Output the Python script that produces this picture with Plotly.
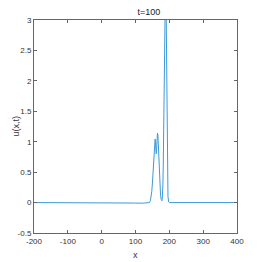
import plotly.graph_objects as go

x_vals = [-200, -150, -100, -50, 0, 20, 40, 60, 80, 100, 120, 135, 141, 144, 146, 148, 150, 152, 154, 155, 156, 157, 158, 159, 160, 161, 162, 163, 164, 165, 166, 167, 168, 170, 172, 174, 176, 178, 179, 180, 181, 182, 183, 184, 185, 186, 187, 188, 189, 190, 191, 192, 193, 194, 195, 196, 198, 200, 205, 220, 260, 300, 350, 400]
u_vals = [0.0, 0.0, 0.0, 0.0, 0.004, 0.0, -0.004, -0.006, -0.004, -0.008, -0.01, -0.008, 0.0, 0.03, 0.08, 0.18, 0.32, 0.52, 0.75, 0.86, 0.95, 1.02, 1.045, 1.0, 0.88, 0.80, 0.82, 0.95, 1.08, 1.14, 1.12, 1.02, 0.88, 0.55, 0.28, 0.12, 0.05, 0.03, 0.05, 0.12, 0.3, 0.6, 1.1, 1.7, 2.4, 3.0, 3.5, 3.8, 3.8, 3.5, 2.9, 2.1, 1.3, 0.7, 0.3, 0.1, 0.01, 0.0, 0.0, 0.0, 0.0, 0.0, 0.0, 0.0]

x_ticks = [-200, -100, 0, 100, 200, 300, 400]
x_tick_text = ["-200", "-100", "0", "100", "200", "300", "400"]
y_ticks = [-0.5, 0, 0.5, 1, 1.5, 2, 2.5, 3]
y_tick_text = ["-0.5", "0", "0.5", "1", "1.5", "2", "2.5", "3"]

FONT = "Liberation Sans"

fig = go.Figure()
fig.add_trace(go.Scatter(x=x_vals, y=u_vals, mode="lines",
                         line=dict(color="#3d9ad8", width=1), showlegend=False))

axis_common = dict(showgrid=False, zeroline=False, showline=True, linecolor="#666666",
                   linewidth=1, mirror="ticks", ticks="inside", ticklen=3, automargin=False,
                   tickcolor="#666666", tickfont=dict(size=8, color="#333333", family=FONT))

fig.update_xaxes(range=[-200, 400], tickvals=x_ticks, ticktext=x_tick_text, **axis_common)
fig.update_yaxes(range=[-0.5, 3], tickvals=y_ticks, ticktext=y_tick_text, **axis_common)

fig.add_annotation(text="u(x,t)", xref="paper", yref="paper", x=0, y=0.5,
                   xanchor="center", yanchor="middle", xshift=-19, textangle=-90,
                   showarrow=False, font=dict(size=9, color="#333333", family=FONT))
fig.add_annotation(text="x", xref="paper", yref="paper", x=0.5, y=0,
                   xanchor="center", yanchor="middle", yshift=-22,
                   showarrow=False, font=dict(size=9, color="#333333", family=FONT))

fig.update_layout(width=254, height=254, plot_bgcolor="white", paper_bgcolor="white",
                  margin=dict(l=26, r=25, t=12, b=29, autoexpand=False),
                  title=dict(text="t=100", x=0.555, xanchor="center", y=0.985, yanchor="middle",
                             font=dict(size=9, color="#222222", family=FONT)))

fig.write_html("out.html")
